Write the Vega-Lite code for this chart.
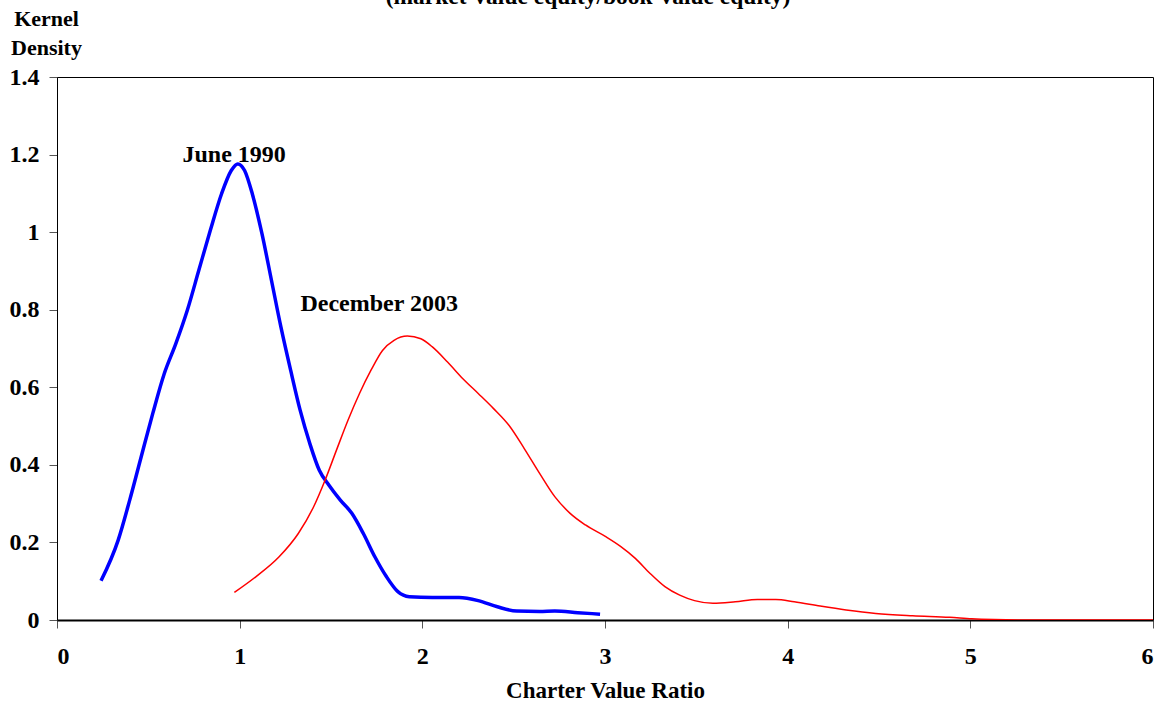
{
  "$schema": "https://vega.github.io/schema/vega-lite/v6.json",
  "width": 1096,
  "height": 543,
  "autosize": "none",
  "padding": {"left": 57, "top": 77, "right": 13, "bottom": 87},
  "background": "white",
  "config": {
    "font": "Liberation Serif",
    "view": {"stroke": "black", "strokeWidth": 1}
  },
  "title": {
    "text": "(market-value equity/book-value equity)",
    "font": "Liberation Serif",
    "fontSize": 23.5,
    "fontWeight": "bold",
    "anchor": "middle",
    "baseline": "bottom",
    "offset": 0,
    "dy": 25,
    "dx": -17,
    "color": "black"
  },
  "datasets": {
    "curves": [
      {"series": "June 1990", "x": 0.241, "y": 0.101},
      {"series": "June 1990", "x": 0.335, "y": 0.206},
      {"series": "June 1990", "x": 0.398, "y": 0.309},
      {"series": "June 1990", "x": 0.461, "y": 0.421},
      {"series": "June 1990", "x": 0.524, "y": 0.532},
      {"series": "June 1990", "x": 0.587, "y": 0.635},
      {"series": "June 1990", "x": 0.650, "y": 0.712},
      {"series": "June 1990", "x": 0.713, "y": 0.798},
      {"series": "June 1990", "x": 0.776, "y": 0.901},
      {"series": "June 1990", "x": 0.839, "y": 1.004},
      {"series": "June 1990", "x": 0.901, "y": 1.099},
      {"series": "June 1990", "x": 0.954, "y": 1.159},
      {"series": "June 1990", "x": 0.990, "y": 1.176},
      {"series": "June 1990", "x": 1.027, "y": 1.159},
      {"series": "June 1990", "x": 1.069, "y": 1.099},
      {"series": "June 1990", "x": 1.122, "y": 0.996},
      {"series": "June 1990", "x": 1.174, "y": 0.876},
      {"series": "June 1990", "x": 1.226, "y": 0.755},
      {"series": "June 1990", "x": 1.279, "y": 0.644},
      {"series": "June 1990", "x": 1.331, "y": 0.541},
      {"series": "June 1990", "x": 1.384, "y": 0.455},
      {"series": "June 1990", "x": 1.436, "y": 0.386},
      {"series": "June 1990", "x": 1.488, "y": 0.348},
      {"series": "June 1990", "x": 1.551, "y": 0.309},
      {"series": "June 1990", "x": 1.614, "y": 0.275},
      {"series": "June 1990", "x": 1.677, "y": 0.223},
      {"series": "June 1990", "x": 1.740, "y": 0.163},
      {"series": "June 1990", "x": 1.803, "y": 0.112},
      {"series": "June 1990", "x": 1.866, "y": 0.073},
      {"series": "June 1990", "x": 1.929, "y": 0.060},
      {"series": "June 1990", "x": 2.055, "y": 0.058},
      {"series": "June 1990", "x": 2.201, "y": 0.058},
      {"series": "June 1990", "x": 2.306, "y": 0.050},
      {"series": "June 1990", "x": 2.411, "y": 0.034},
      {"series": "June 1990", "x": 2.516, "y": 0.023},
      {"series": "June 1990", "x": 2.642, "y": 0.022},
      {"series": "June 1990", "x": 2.725, "y": 0.023},
      {"series": "June 1990", "x": 2.851, "y": 0.019},
      {"series": "June 1990", "x": 2.973, "y": 0.015},
      {"series": "December 2003", "x": 0.971, "y": 0.071},
      {"series": "December 2003", "x": 1.090, "y": 0.112},
      {"series": "December 2003", "x": 1.216, "y": 0.163},
      {"series": "December 2003", "x": 1.321, "y": 0.223},
      {"series": "December 2003", "x": 1.405, "y": 0.292},
      {"series": "December 2003", "x": 1.468, "y": 0.361},
      {"series": "December 2003", "x": 1.530, "y": 0.438},
      {"series": "December 2003", "x": 1.593, "y": 0.515},
      {"series": "December 2003", "x": 1.656, "y": 0.584},
      {"series": "December 2003", "x": 1.719, "y": 0.644},
      {"series": "December 2003", "x": 1.782, "y": 0.695},
      {"series": "December 2003", "x": 1.845, "y": 0.721},
      {"series": "December 2003", "x": 1.918, "y": 0.732},
      {"series": "December 2003", "x": 1.992, "y": 0.725},
      {"series": "December 2003", "x": 2.055, "y": 0.704},
      {"series": "December 2003", "x": 2.138, "y": 0.665},
      {"series": "December 2003", "x": 2.222, "y": 0.622},
      {"series": "December 2003", "x": 2.306, "y": 0.584},
      {"series": "December 2003", "x": 2.390, "y": 0.545},
      {"series": "December 2003", "x": 2.474, "y": 0.502},
      {"series": "December 2003", "x": 2.558, "y": 0.442},
      {"series": "December 2003", "x": 2.642, "y": 0.378},
      {"series": "December 2003", "x": 2.725, "y": 0.318},
      {"series": "December 2003", "x": 2.809, "y": 0.275},
      {"series": "December 2003", "x": 2.893, "y": 0.245},
      {"series": "December 2003", "x": 3.004, "y": 0.215},
      {"series": "December 2003", "x": 3.085, "y": 0.190},
      {"series": "December 2003", "x": 3.166, "y": 0.159},
      {"series": "December 2003", "x": 3.247, "y": 0.120},
      {"series": "December 2003", "x": 3.328, "y": 0.086},
      {"series": "December 2003", "x": 3.409, "y": 0.064},
      {"series": "December 2003", "x": 3.490, "y": 0.050},
      {"series": "December 2003", "x": 3.591, "y": 0.043},
      {"series": "December 2003", "x": 3.713, "y": 0.047},
      {"series": "December 2003", "x": 3.834, "y": 0.053},
      {"series": "December 2003", "x": 3.935, "y": 0.053},
      {"series": "December 2003", "x": 4.036, "y": 0.047},
      {"series": "December 2003", "x": 4.178, "y": 0.036},
      {"series": "December 2003", "x": 4.320, "y": 0.026},
      {"series": "December 2003", "x": 4.482, "y": 0.017},
      {"series": "December 2003", "x": 4.684, "y": 0.011},
      {"series": "December 2003", "x": 4.887, "y": 0.007},
      {"series": "December 2003", "x": 5.008, "y": 0.003},
      {"series": "December 2003", "x": 5.130, "y": 0.001},
      {"series": "December 2003", "x": 5.300, "y": 0.0},
      {"series": "December 2003", "x": 5.600, "y": 0.0},
      {"series": "December 2003", "x": 6.000, "y": 0.0}
    ],
    "labels": [
      {"label": "June 1990", "x": 0.97, "y": 1.199},
      {"label": "December 2003", "x": 1.764, "y": 0.815}
    ]
  },
  "layer": [
    {
      "data": {"name": "curves"},
      "mark": {"type": "line", "interpolate": "monotone", "clip": true},
      "encoding": {
        "x": {
          "field": "x", "type": "quantitative",
          "scale": {"domain": [0, 6], "nice": false, "zero": false},
          "axis": {
            "title": "Charter Value Ratio",
            "titleFont": "Liberation Serif", "titleFontSize": 23, "titleFontWeight": "bold",
            "titleColor": "black", "titlePadding": 11,
            "values": [0, 1, 2, 3, 4, 5, 6],
            "format": "~g",
            "labelFont": "Liberation Serif", "labelFontSize": 24, "labelFontWeight": "bold",
            "labelColor": "black", "labelPadding": 16,
            "grid": false,
            "domainColor": "black", "domainWidth": 2,
            "tickColor": "#555", "tickSize": 8
          }
        },
        "y": {
          "field": "y", "type": "quantitative",
          "scale": {"domain": [0, 1.4], "nice": false},
          "axis": {
            "title": ["Kernel", "Density"],
            "titleFont": "Liberation Serif", "titleFontSize": 22, "titleFontWeight": "bold",
            "titleColor": "black",
            "titleAngle": 0, "titleAlign": "center", "titleBaseline": "middle",
            "titleX": -11, "titleY": -59, "titleLineHeight": 29,
            "values": [0, 0.2, 0.4, 0.6, 0.8, 1, 1.2, 1.4],
            "format": "~g",
            "labelFont": "Liberation Serif", "labelFontSize": 24, "labelFontWeight": "bold",
            "labelColor": "black", "labelPadding": 10,
            "grid": false,
            "domainColor": "black",
            "tickColor": "#555", "tickSize": 8
          }
        },
        "color": {
          "field": "series", "type": "nominal",
          "scale": {"domain": ["June 1990", "December 2003"], "range": ["#0000ff", "#ff0000"]},
          "legend": null
        },
        "strokeWidth": {
          "field": "series", "type": "nominal",
          "scale": {"domain": ["June 1990", "December 2003"], "range": [3.5, 1.5]},
          "legend": null
        }
      }
    },
    {
      "data": {"name": "labels"},
      "mark": {"type": "text", "font": "Liberation Serif", "fontSize": 24, "fontWeight": "bold", "color": "black", "align": "center", "baseline": "middle"},
      "encoding": {
        "x": {"field": "x", "type": "quantitative"},
        "y": {"field": "y", "type": "quantitative"},
        "text": {"field": "label"}
      }
    }
  ]
}
